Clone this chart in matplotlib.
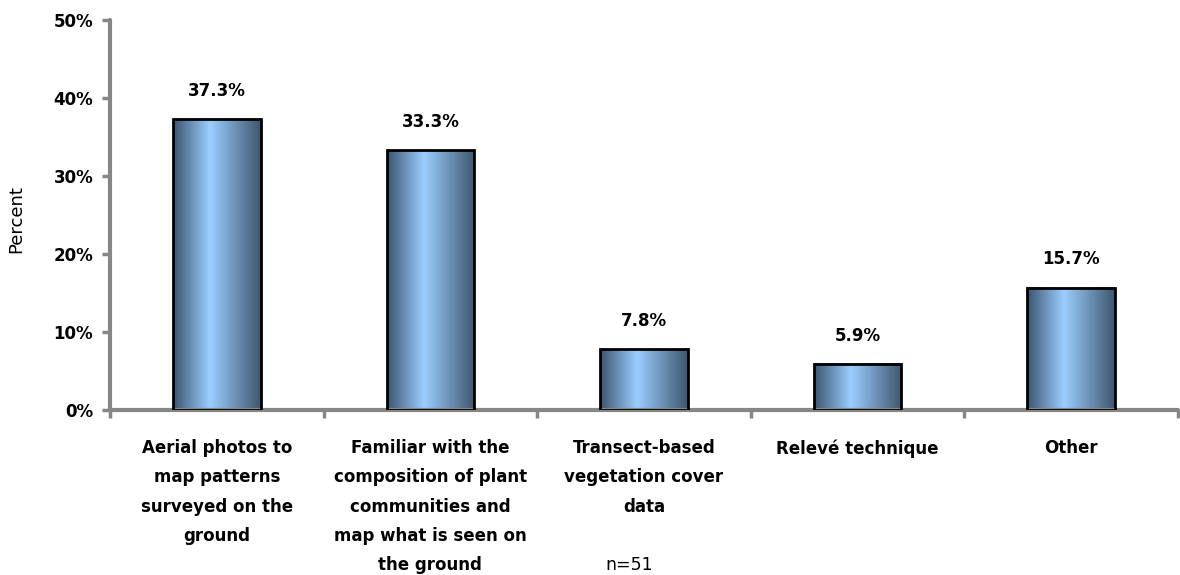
import numpy as np
import matplotlib
matplotlib.use("Agg")
import matplotlib.pyplot as plt
from matplotlib.colors import LinearSegmentedColormap

# data
categories = [
    "Aerial photos to\nmap patterns\nsurveyed on the\nground",
    "Familiar with the\ncomposition of plant\ncommunities and\nmap what is seen on\nthe ground",
    "Transect-based\nvegetation cover\ndata",
    "Relevé technique",
    "Other",
]
values = [37.3, 33.3, 7.8, 5.9, 15.7]
y_ticks = [0, 10, 20, 30, 40, 50]
y_tick_labels = ["0%", "10%", "20%", "30%", "40%", "50%"]
note = "n=51"

plt.rcParams['font.family'] = ['DejaVu Sans']
AXIS_GREY = '#868686'

fig = plt.figure(figsize=(11.8, 5.75), dpi=100)
ax = fig.add_axes([0.0932, 0.287, 0.905, 0.678])

x = np.arange(len(categories))
bars = ax.bar(x, values, width=0.41, color='none', edgecolor='black',
              linewidth=2.0, zorder=3)

# horizontal gradient fill: dark edges, light blue band near the middle
grad_cmap = LinearSegmentedColormap.from_list(
    'bar_grad', [(0.0, '#3b546f'), (0.42, '#9bceff'), (1.0, '#3f566f')])
gradient = np.linspace(0, 1, 256).reshape(1, -1)
for b in bars:
    x0, w, h = b.get_x(), b.get_width(), b.get_height()
    ax.imshow(gradient, extent=[x0, x0 + w, 0, h], aspect='auto',
              cmap=grad_cmap, zorder=2, interpolation='bicubic')

for xi, v in zip(x, values):
    ax.annotate(f"{v:.1f}%", (xi, v), xytext=(0, 14), textcoords='offset points',
                ha='center', va='bottom', fontsize=12, fontweight='bold')

ax.set_xlim(-0.5, len(categories) - 0.5)
ax.set_ylim(0, 50)

ax.set_yticks(y_ticks)
ax.set_yticklabels(y_tick_labels, fontsize=12, fontweight='bold')

ax.set_xticks(x)
ax.set_xticklabels(categories, fontsize=12, fontweight='bold', linespacing=1.8,
                   va='top')
ax.set_xticks(np.arange(len(categories) + 1) - 0.5, minor=True)
ax.tick_params(axis='x', which='major', length=0, pad=21)
ax.tick_params(axis='x', which='minor', length=6, width=2.5, color=AXIS_GREY)
ax.tick_params(axis='y', length=6, width=2.5, color=AXIS_GREY, pad=6)

for side in ('top', 'right'):
    ax.spines[side].set_visible(False)
for side in ('left', 'bottom'):
    ax.spines[side].set_color(AXIS_GREY)
    ax.spines[side].set_linewidth(3)
    ax.spines[side].set_capstyle('round')

ax.set_ylabel("Percent", fontsize=13)
ax.yaxis.set_label_coords(-0.079, 0.49)
fig.text(0.533, 0.017, note, fontsize=12.5, ha='center', va='center')

fig.savefig("out.png", dpi=100)
